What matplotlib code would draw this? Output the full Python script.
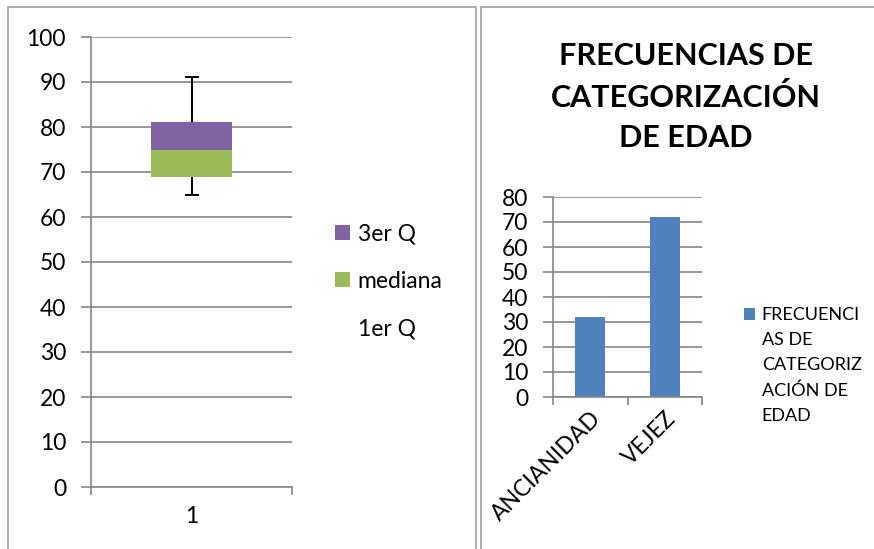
import matplotlib.pyplot as plt
from matplotlib.patches import Rectangle

plt.rcParams['font.family'] = ['Lato', 'DejaVu Sans']

# box chart data (stacked: 1er Q hidden, then mediana, then 3er Q)
box_cat = ['1']
q1 = [69]
med_part = [6]
q3_part = [6.2]
err_up = [10]
err_down = [4]

# frequency chart data
categorias = ['ANCIANIDAD', 'VEJEZ']
frecuencias = [32, 72]
leyenda = ['FRECUENCI', 'AS DE', 'CATEGORIZ', 'ACIÓN DE', 'EDAD']

grid_col = '#868686'
purple = '#8064a2'
green = '#9bbb59'
blue = '#4f81bd'

fig = plt.figure(figsize=(8.74, 5.49), dpi=100)

# chart frames
fig.patches.append(Rectangle((8 / 874, -0.05), 468 / 874, 1 - 7 / 549 + 0.05,
                             transform=fig.transFigure, fill=False, ec='#a0a0a0', lw=1.2))
fig.patches.append(Rectangle((481 / 874, -0.05), 0.5, 1 - 7 / 549 + 0.05,
                             transform=fig.transFigure, fill=False, ec='#a0a0a0', lw=1.2))


def style_axes(ax):
    for s in ['top', 'right']:
        ax.spines[s].set_visible(False)
    ax.spines['left'].set_color(grid_col)
    ax.spines['bottom'].set_color(grid_col)
    ax.spines['left'].set_linewidth(1.2)
    ax.spines['bottom'].set_linewidth(1.2)
    ax.yaxis.grid(True, color=grid_col, lw=1.2)
    ax.set_axisbelow(True)
    ax.tick_params(axis='y', color=grid_col, length=7, width=1.2, labelsize=16.5, pad=11)
    ax.tick_params(axis='x', which='major', length=0, labelsize=16.5)
    ax.tick_params(axis='x', which='minor', color=grid_col, length=6, width=1.2)


# left: box plot built from stacked bars
ax1 = fig.add_axes([91 / 874, 1 - 487 / 549, 201 / 874, 450 / 549])
x = [1]
ax1.bar(x, q1, width=0.4, color='none', label='1er Q')
ax1.bar(x, med_part, width=0.4, bottom=q1, color=green, label='mediana')
top = [q1[0] + med_part[0]]
ax1.bar(x, q3_part, width=0.4, bottom=top, color=purple, label='3er Q')
upper = [top[0] + q3_part[0]]
hi = [upper[0] + err_up[0]]
lo = [q1[0] - err_down[0]]
ax1.vlines(x, upper, hi, color='black', lw=1.4)
ax1.vlines(x, lo, q1, color='black', lw=1.4)
ax1.plot(x + x, hi + lo, ls='none', marker='_', markersize=10, mew=1.4, color='black')
ax1.set_xlim(0.5, 1.5)
ax1.set_ylim(0, 100)
ax1.set_yticks(range(0, 101, 10))
ax1.set_xticks(x)
ax1.set_xticklabels(box_cat)
ax1.set_xticks([0.5, 1.5], minor=True)
style_axes(ax1)
ax1.tick_params(axis='x', which='major', pad=14)
h, l = ax1.get_legend_handles_labels()
ax1.legend(h[::-1], l[::-1], loc='center left', bbox_to_anchor=(1.11, 0.457), frameon=False,
           fontsize=16.5, handlelength=0.65, handleheight=0.65, handletextpad=0.35,
           labelspacing=1.15)

# right: frequency bar chart
ax2 = fig.add_axes([553 / 874, 1 - 397 / 549, 149 / 874, 200 / 549])
xs = range(len(categorias))
bars = ax2.bar(xs, frecuencias, width=0.4, color=blue, label=leyenda[0])
ax2.set_xlim(-0.5, 1.5)
ax2.set_ylim(0, 80)
ax2.set_yticks(range(0, 81, 10))
ax2.set_xticks(list(xs))
ax2.set_xticklabels(categorias, rotation=45, ha='right', rotation_mode='anchor')
ax2.set_xticks([-0.5, 0.5, 1.5], minor=True)
style_axes(ax2)
ax2.tick_params(axis='x', which='major', pad=8)
blank = [Rectangle((0, 0), 1, 1, fill=False, lw=0) for _ in leyenda[1:]]
ax2.legend([bars] + blank, leyenda, loc='upper left', bbox_to_anchor=(1.17, 0.53),
           frameon=False, fontsize=13, handlelength=0.65, handleheight=0.65,
           handletextpad=0.35, labelspacing=0.5)

fig.text(686 / 874, 1 - 97 / 549, 'FRECUENCIAS DE\nCATEGORIZACIÓN\nDE EDAD', ha='center',
         va='center', fontsize=22, fontweight='bold', linespacing=1.55)

fig.savefig('out.png', dpi=100)
